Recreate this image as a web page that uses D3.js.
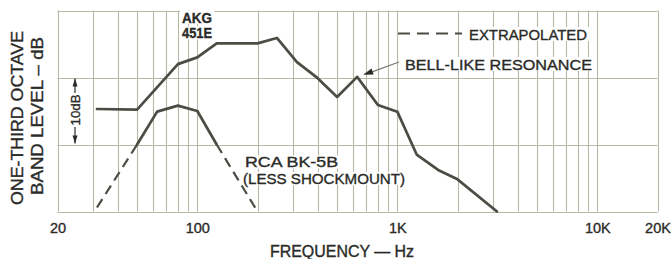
<!DOCTYPE html>
<html>
<head>
<meta charset="utf-8">
<script src="https://cdn.jsdelivr.net/npm/d3@7/dist/d3.min.js"></script>
<style>
  html, body { margin: 0; padding: 0; background: #ffffff; }
  svg { display: block; }
  text { font-family: "Liberation Sans", Arial, sans-serif; fill: #2a2a27; stroke: #2a2a27; stroke-width: 0.35px; }
</style>
</head>
<body>
<svg id="chart" width="671" height="259"></svg>
<script>
// ---------------- DATA ----------------
const gridFreqs = [20,30,40,50,60,70,80,90,100,
                   200,300,400,500,600,700,800,900,1000,
                   2000,3000,4000,5000,6000,7000,8000,9000,10000,20000];
const gridLevels = [0, 10, 20, 30];
const tickFreqs  = [20, 100, 1000, 10000, 20000];
const tickLabels = ["20", "100", "1K", "10K", "20K"];

// AKG 451E (measured, solid)
const akgFreq = [31.5, 50, 80, 100, 125, 200, 250, 315, 400, 500, 630, 800, 1000, 1250, 1600, 2000, 3150];
const akgDb   = [15.3, 15.2, 22.0, 23.0, 25.1, 25.1, 25.9, 22.3, 19.9, 17.1, 20.1, 15.9, 14.9, 8.5, 6.2, 4.8, 0.0];

// RCA BK-5B (less shockmount), measured part (solid)
const rcaFreq = [50, 63, 80, 100, 125];
const rcaDb   = [10.0, 14.9, 15.8, 15.0, 10.0];
// RCA BK-5B extrapolated parts (dashed)
const rcaLowFreq  = [31.5, 50];
const rcaLowDb    = [0.6, 10.0];
const rcaHighFreq = [125, 200];
const rcaHighDb   = [10.0, 0.0];

// ---------------- CHART ----------------
const svg = d3.select("#chart");
const W = 671, H = 259;
const plot = { left: 57.5, right: 657.5, top: 10.5, bottom: 211.5 };

const x = d3.scaleLog().domain([20, 20000]).range([plot.left, plot.right]);
const y = d3.scaleLinear().domain([0, 30]).range([plot.bottom, plot.top]);

const gridColor = "#b8b8a8";
const curveColor = "#4c4c44";

svg.append("rect").attr("width", W).attr("height", H).attr("fill", "#ffffff");

// grid
const grid = svg.append("g");
grid.selectAll("line.v").data(gridFreqs).join("line")
  .attr("x1", d => Math.round(x(d)) + 0.5).attr("x2", d => Math.round(x(d)) + 0.5)
  .attr("y1", plot.top).attr("y2", plot.bottom)
  .attr("stroke", gridColor).attr("stroke-width", 1.1);
grid.selectAll("line.h").data(gridLevels).join("line")
  .attr("x1", plot.left).attr("x2", plot.right)
  .attr("y1", d => Math.round(y(d)) + 0.5).attr("y2", d => Math.round(y(d)) + 0.5)
  .attr("stroke", gridColor).attr("stroke-width", 1.1);

// labels with white backgrounds (drawn over grid)
const labels = svg.append("g");
function label(txt, x0, yc, size, len, weight, bg) {
  const t = labels.append("text")
    .attr("x", x0).attr("y", yc)
    .attr("dominant-baseline", "central")
    .attr("font-size", size)
    .attr("font-weight", weight || "normal")
    .attr("textLength", len).attr("lengthAdjust", "spacingAndGlyphs")
    .text(txt);
  if (bg) {
    const b = t.node().getBBox();
    labels.insert("rect", "text")
      .attr("x", b.x - 2).attr("y", b.y + 1.5).attr("width", b.width + 4).attr("height", b.height - 3)
      .attr("fill", "#ffffff");
  }
  return t;
}
label("AKG", 182, 17.5, 14, 30, "bold", true);
label("451E", 182, 33, 14, 30, "bold", true);
label("EXTRAPOLATED", 469, 34, 15.5, 118, "normal", true);
label("BELL-LIKE RESONANCE", 405, 64, 15.5, 187, "normal", true);
label("RCA BK-5B", 245, 162, 14.5, 93, "normal", true);
label("(LESS SHOCKMOUNT)", 243, 178.5, 14.5, 162, "normal", true);

// legend dashes for "EXTRAPOLATED"
svg.append("line")
  .attr("x1", 398).attr("x2", 462).attr("y1", 33.5).attr("y2", 33.5)
  .attr("stroke", curveColor).attr("stroke-width", 2)
  .attr("stroke-dasharray", "12,7");

// curves
const line = d3.line().x(d => x(d[0])).y(d => y(d[1]));
const zip = (a, b) => a.map((v, i) => [v, b[i]]);

svg.append("path").datum(zip(akgFreq, akgDb))
  .attr("d", line).attr("fill", "none")
  .attr("stroke", curveColor).attr("stroke-width", 2.7)
  .attr("stroke-linejoin", "round").attr("stroke-linecap", "round");

svg.append("path").datum(zip(rcaFreq, rcaDb))
  .attr("d", line).attr("fill", "none")
  .attr("stroke", curveColor).attr("stroke-width", 2.7)
  .attr("stroke-linejoin", "round").attr("stroke-linecap", "round");

[zip(rcaLowFreq, rcaLowDb), zip(rcaHighFreq, rcaHighDb)].forEach(seg => {
  svg.append("path").datum(seg)
    .attr("d", line).attr("fill", "none")
    .attr("stroke", curveColor).attr("stroke-width", 2.2)
    .attr("stroke-dasharray", "10,6");
});

// bell-like resonance pointer
const px = x(630) + 6, py = y(20.1) - 2;
svg.append("line")
  .attr("x1", 399).attr("y1", 62).attr("x2", px + 9).attr("y2", py - 3)
  .attr("stroke", "#7a7a70").attr("stroke-width", 1.2);
const ang = Math.atan2(62 - py, 399 - px);
const ah = 10, aw = 3.2;
const bx = px + ah * Math.cos(ang), by = py + ah * Math.sin(ang);
svg.append("path")
  .attr("d", `M${px},${py} L${bx - aw * Math.sin(ang)},${by + aw * Math.cos(ang)} L${bx + aw * Math.sin(ang)},${by - aw * Math.cos(ang)} Z`)
  .attr("fill", "#2a2a27");

// 10 dB dimension marker
const mx = 75;
const g10 = svg.append("g");
g10.append("line").attr("x1", mx).attr("x2", mx).attr("y1", y(20) + 1).attr("y2", 93)
  .attr("stroke", curveColor).attr("stroke-width", 1.4);
g10.append("line").attr("x1", mx).attr("x2", mx).attr("y1", 127).attr("y2", y(10) - 1)
  .attr("stroke", curveColor).attr("stroke-width", 1.4);
g10.append("path").attr("d", `M${mx},${y(20) + 1} l-2.5,8 l5,0 Z`).attr("fill", "#2a2a27");
g10.append("path").attr("d", `M${mx},${y(10) - 1} l-2.5,-8 l5,0 Z`).attr("fill", "#2a2a27");
g10.append("text")
  .attr("transform", `translate(${mx},110) rotate(-90)`)
  .attr("text-anchor", "middle").attr("dominant-baseline", "central")
  .attr("font-size", 13).attr("textLength", 31).attr("lengthAdjust", "spacingAndGlyphs")
  .text("10dB");

// x axis tick labels
const xAxis = d3.axisBottom(x).tickValues(tickFreqs)
  .tickFormat((d, i) => tickLabels[i]).tickSize(0).tickPadding(0);
const ax = svg.append("g").attr("transform", `translate(0,${plot.bottom})`).call(xAxis);
ax.select(".domain").remove();
ax.selectAll("text")
  .attr("y", 16).attr("dy", null).attr("dominant-baseline", "central")
  .attr("font-size", 14.5).attr("fill", "#2a2a27")
  .style("font-family", '"Liberation Sans", Arial, sans-serif');

// axis titles
svg.append("text")
  .attr("x", 342).attr("y", 251)
  .attr("text-anchor", "middle").attr("dominant-baseline", "central")
  .attr("font-size", 16).attr("textLength", 144).attr("lengthAdjust", "spacingAndGlyphs")
  .text("FREQUENCY — Hz");

svg.append("text")
  .attr("transform", "translate(17,118) rotate(-90)")
  .attr("text-anchor", "middle").attr("dominant-baseline", "central")
  .attr("font-size", 16).attr("textLength", 174).attr("lengthAdjust", "spacingAndGlyphs")
  .text("ONE-THIRD OCTAVE");
svg.append("text")
  .attr("transform", "translate(37,116) rotate(-90)")
  .attr("text-anchor", "middle").attr("dominant-baseline", "central")
  .attr("font-size", 16).attr("textLength", 158).attr("lengthAdjust", "spacingAndGlyphs")
  .text("BAND LEVEL – dB");
</script>
</body>
</html>
